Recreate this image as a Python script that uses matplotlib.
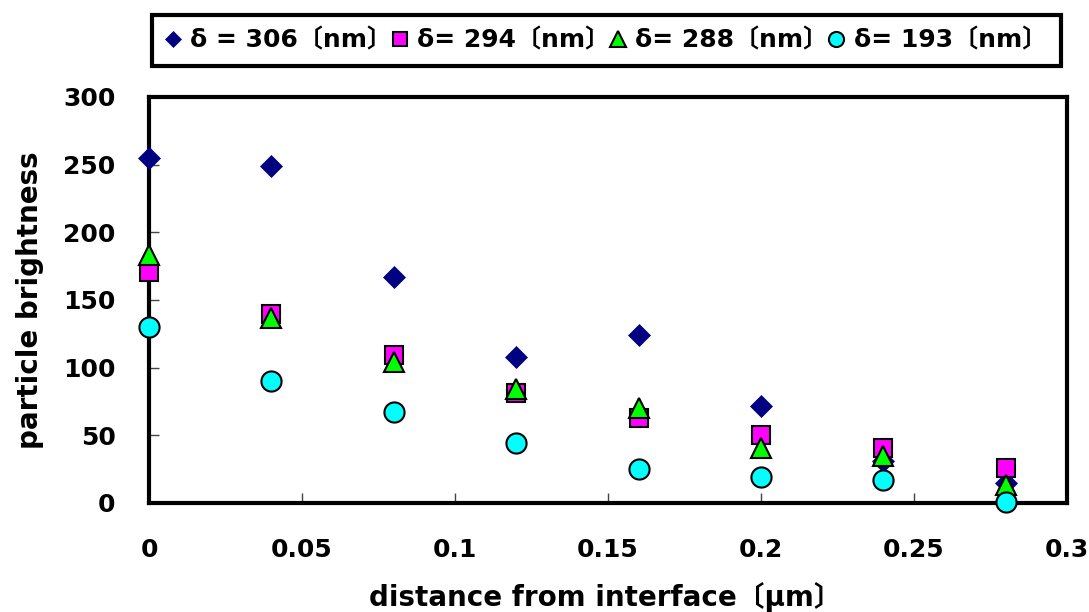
import matplotlib
matplotlib.use("Agg")
import matplotlib.pyplot as plt

plt.rcParams['font.family'] = ['DejaVu Sans', 'Noto Sans CJK JP']
plt.rcParams['font.weight'] = 'bold'

x = [0, 0.04, 0.08, 0.12, 0.16, 0.20, 0.24, 0.28]
d306 = [255, 249, 167, 108, 124, 72, 31, 15]
d294 = [171, 140, 109, 81, 63, 50, 41, 26]
d288 = [183, 137, 104, 84, 70, 41, 35, 13]
d193 = [130, 90, 67, 44, 25, 19, 17, 1]

labels = ["δ = 306〔nm〕", "δ= 294〔nm〕", "δ= 288〔nm〕", "δ= 193〔nm〕"]
xticks = [0, 0.05, 0.1, 0.15, 0.2, 0.25, 0.3]
xticklabels = ["0", "0.05", "0.1", "0.15", "0.2", "0.25", "0.3"]
yticks = [0, 50, 100, 150, 200, 250, 300]

fig = plt.figure(figsize=(10.89, 6.12), dpi=100)
ax = fig.add_axes([149/1089, 1-503/612, (1067-149)/1089, (503-97)/612])

ax.plot(x, d306, linestyle='none', marker='D', ms=11.5, mfc='#000080', mec='#000080', mew=0.5, label=labels[0], zorder=3)
ax.plot(x, d294, linestyle='none', marker='s', ms=13.5, mfc='#FF00FF', mec='black', mew=1.5, label=labels[1], zorder=4)
ax.plot(x, d288, linestyle='none', marker='^', ms=15, mfc='#00FF00', mec='black', mew=1.5, label=labels[2], zorder=5)
ax.plot(x, d193, linestyle='none', marker='o', ms=14.5, mfc='#00FFFF', mec='black', mew=1.5, label=labels[3], zorder=6)

ax.set_xlim(0, 0.3)
ax.set_ylim(0, 300)
ax.set_xticks(xticks)
ax.set_xticklabels(xticklabels)
ax.set_yticks(yticks)
for s in ax.spines.values():
    s.set_linewidth(3)
    s.set_color('black')
    s.set_zorder(2)
for m in ax.lines:
    m.set_clip_on(False)

ax.tick_params(axis='both', direction='in', length=7, width=1, color='#444444', labelsize=18)
ax.tick_params(axis='y', pad=24)
ax.tick_params(axis='x', pad=25)
for t in ax.get_xticklabels() + ax.get_yticklabels():
    t.set_fontweight('bold')

ax.set_ylabel("particle brightness", fontsize=20, fontweight='bold')
ax.set_xlabel("distance from interface〔μm〕", fontsize=20, fontweight='bold')
ax.yaxis.set_label_coords(-0.114, 0.5)
ax.xaxis.set_label_coords(0.497, -0.195)

leg = fig.legend(loc='center', bbox_to_anchor=(0.5565, 0.9338), ncol=4, frameon=True,
                 fancybox=False, shadow=False, framealpha=1, markerscale=0.75, handlelength=0.6,
                 handletextpad=0.4, columnspacing=0.0, borderpad=0.55,
                 prop={'size': 18, 'weight': 'bold'})
leg.get_frame().set_edgecolor('black')
leg.get_frame().set_linewidth(3)

fig.savefig("out.png", dpi=100)
